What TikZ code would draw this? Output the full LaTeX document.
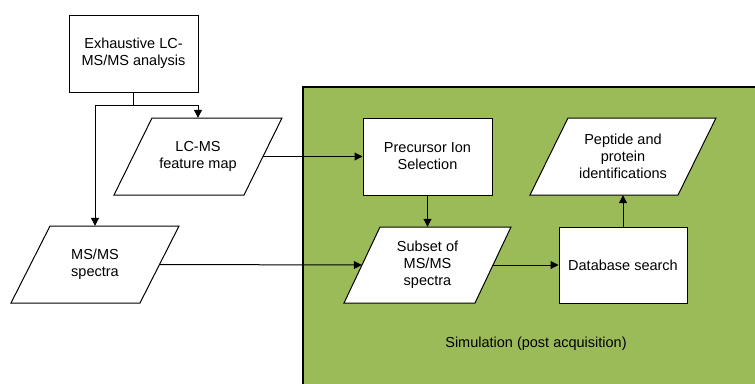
\documentclass[tikz,border=0pt]{standalone}
\usepackage{fontspec}
\setmainfont{Liberation Sans}
\usetikzlibrary{arrows.meta}
\definecolor{simgreen}{RGB}{155,187,89}
\tikzset{
  txt/.style={align=center, inner sep=0pt, font=\fontsize{14.5}{17}\selectfont},
  procbox/.style={txt, draw=black, fill=white, line width=1pt, rectangle,
    minimum width=129pt, minimum height=77pt},
  datanode/.style={txt, rectangle, minimum height=77pt},
  outl/.style={draw=black, fill=white, line width=1pt, line join=miter},
  arr/.style={line width=1pt, -{Triangle[length=8pt,width=8pt]}},
  ln/.style={line width=1pt}
}
\begin{document}
\begin{tikzpicture}[x=1pt,y=-1pt]
\useasboundingbox (0,0) rectangle (755,383);
\clip (0,0) rectangle (755,383);
\fill[white] (0,0) rectangle (755,383);
% simulation area
\draw[fill=simgreen, line width=2pt] (303,87) rectangle (770,400);
\node[txt] (simlabel) at (536,344) {Simulation (post acquisition)};
% rectangles
\node[procbox] (ex) at (133.5,53.5) {Exhaustive LC-\\MS/MS analysis};
\node[procbox] (prec) at (427.5,156.5) {Precursor Ion\\Selection};
\node[procbox, minimum width=128pt, minimum height=76pt] (db) at (623,265) {Database search};
% parallelogram outlines
\draw[outl] (152,118) -- (282,118) -- (244,195) -- (114,195) -- cycle;
\draw[outl] (50,226) -- (179,226) -- (140,303) -- (11,303) -- cycle;
\draw[outl] (380,227) -- (511,227) -- (475,303) -- (344,303) -- cycle;
\draw[outl] (568,118) -- (716,118) -- (678,195) -- (530,195) -- cycle;
% parallelogram texts
\node[datanode, minimum width=168pt] (lcms) at (198,156.5) {LC-MS\\feature map};
\node[datanode, minimum width=168pt] (msms) at (95,264.5) {MS/MS\\spectra};
\node[datanode, minimum width=167pt, minimum height=76pt] (subset) at (427.5,265) {Subset of\\MS/MS\\spectra};
\node[datanode, minimum width=186pt] (pep) at (623,156.5) {Peptide and\\protein\\identifications};
% connectors
\coordinate (split) at (133.5,105);
\draw[ln] (ex.south) -- (split);
\draw[arr] (split) -| (lcms.north);
\draw[arr] (split) -| (msms.north);
\draw[arr] ([xshift=-19pt]lcms.east) -- (prec.west);
\draw[arr] ([xshift=-19.5pt]msms.east) -- ([xshift=18pt]subset.west);
\draw[arr] (prec.south) -- (subset.north);
\draw[arr] ([xshift=-18pt]subset.east) -- (db.west);
\draw[arr] (db.north) -- (pep.south);
\end{tikzpicture}
\end{document}
